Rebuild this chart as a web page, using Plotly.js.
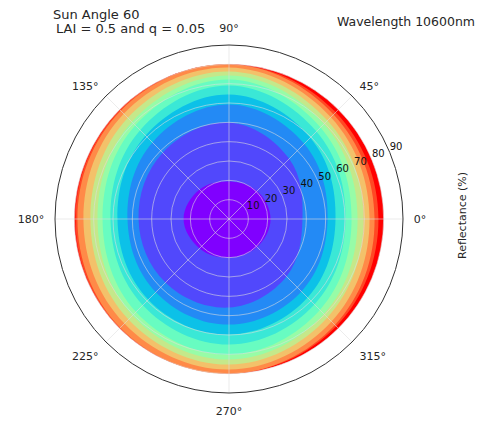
<!DOCTYPE html>
<html>
<head>
<meta charset="utf-8">
<script src="https://cdn.plot.ly/plotly-3.0.1.min.js"></script>
<style>
  html, body { margin: 0; padding: 0; background: #ffffff; }
  #chart { width: 480px; height: 422px; }
</style>
</head>
<body>
<div id="chart"></div>
<script>
// Azimuth directions (deg) where each band edge is sampled; the last one closes the loop
const azimuth = [0, 45, 90, 135, 180, 225, 270, 315, 360];

// Outer edge of each filled reflectance band, as view zenith angle (deg), outermost band first
const edgeBand00 = [80.0, 80.0, 80.0, 80.0, 80.0, 80.0, 80.0, 80.0, 80.0];
const edgeBand01 = [77.3, 78.0, 80.0, 79.8, 79.4, 80.0, 80.0, 78.5, 77.3];
const edgeBand02 = [75.3, 76.5, 80.0, 79.2, 78.4, 79.5, 80.0, 77.5, 75.3];
const edgeBand03 = [72.7, 74.5, 78.4, 77.0, 75.3, 76.5, 77.9, 75.0, 72.7];
const edgeBand04 = [69.6, 72.0, 76.3, 74.0, 71.7, 73.5, 75.3, 72.0, 69.6];
const edgeBand05 = [66.5, 69.5, 74.2, 71.0, 68.0, 70.5, 72.7, 69.5, 66.5];
const edgeBand06 = [63.4, 67.0, 72.2, 68.5, 65.4, 68.0, 70.1, 66.5, 63.4];
const edgeBand07 = [60.3, 64.0, 69.1, 65.0, 61.3, 63.0, 64.9, 62.5, 60.3];
const edgeBand08 = [55.1, 59.5, 64.4, 61.0, 57.7, 59.0, 59.8, 57.5, 55.1];
const edgeBand09 = [51.0, 55.0, 59.2, 56.0, 52.5, 53.5, 54.6, 53.0, 51.0];
const edgeBand10 = [38.0, 44.0, 49.9, 48.5, 46.8, 46.5, 45.8, 42.0, 38.0];
const edgeBand11 = [21.5, 20.5, 19.4, 21.5, 23.5, 21.5, 19.9, 20.5, 21.5];

const bandEdges = [edgeBand00, edgeBand01, edgeBand02, edgeBand03, edgeBand04, edgeBand05,
                   edgeBand06, edgeBand07, edgeBand08, edgeBand09, edgeBand10, edgeBand11];

// Rainbow colour of each band, high reflectance (red) to low (violet)
const bandColors = ['#ff0000', '#ff4824', '#ff8a48', '#f3c16a', '#c5e88a', '#97fca7',
                    '#68fcc1', '#3ae8d6', '#0cc1e8', '#238af5', '#5148fc', '#8000ff'];

// Axis ticks
const radialTicks = [10, 20, 30, 40, 50, 60, 70, 80, 90];
const radialLabelAngle = 22.5;
const angularTicks = [0, 45, 90, 135, 180, 225, 270, 315];
const angularLabels = ['0°', '45°', '90°', '135°', '180°', '225°', '270°', '315°'];

// Each band is a filled closed curve; later (inner) bands paint over earlier ones
const traces = bandEdges.map((edge, i) => ({
  type: 'scatterpolar',
  subplot: 'polar',
  r: edge,
  theta: azimuth,
  mode: 'lines',
  fill: 'toself',
  fillcolor: bandColors[i],
  line: { width: 0, color: bandColors[i], shape: 'spline', smoothing: 1.12 },
  hoverinfo: 'skip'
}));

// Radial tick labels along the 22.5° ray, drawn on the top subplot
traces.push({
  type: 'scatterpolar',
  subplot: 'polar2',
  r: radialTicks,
  theta: radialTicks.map(() => radialLabelAngle),
  mode: 'text',
  text: radialTicks.map(String),
  textposition: 'top right',
  textfont: { family: 'DejaVu Sans, sans-serif', size: 10, color: '#111111' },
  hoverinfo: 'skip'
});

const W = 480, H = 422;
const cx = 229, cy = 219, R = 174;
const domX = [(cx - R) / W, (cx + R) / W];
const domY = [(H - cy - R) / H, (H - cy + R) / H];

const titleFont = { family: 'DejaVu Sans, sans-serif', size: 13, color: '#262626' };
const gridColor = 'rgba(222,222,222,0.72)';

const layout = {
  width: W,
  height: H,
  margin: { l: 0, r: 0, t: 0, b: 0 },
  paper_bgcolor: '#ffffff',
  showlegend: false,
  font: { family: 'DejaVu Sans, sans-serif', size: 11, color: '#262626' },
  // bottom subplot holds the filled bands
  polar: {
    domain: { x: domX, y: domY },
    bgcolor: '#ffffff',
    radialaxis: { range: [0, 90], showgrid: false, showticklabels: false, showline: false, ticks: '' },
    angularaxis: { showgrid: false, showticklabels: false, showline: false, ticks: '',
                   rotation: 0, direction: 'counterclockwise' }
  },
  // transparent subplot on top draws the grid, outline and tick labels over the bands
  polar2: {
    domain: { x: domX, y: domY },
    bgcolor: 'rgba(0,0,0,0)',
    radialaxis: {
      range: [0, 90], tickmode: 'array', tickvals: radialTicks, angle: radialLabelAngle,
      showline: false, ticks: '', showticklabels: false,
      gridcolor: gridColor, gridwidth: 0.8
    },
    angularaxis: {
      rotation: 0, direction: 'counterclockwise',
      tickmode: 'array', tickvals: angularTicks, ticktext: angularLabels,
      showline: true, linecolor: '#333333', linewidth: 1,
      ticks: 'outside', ticklen: 8, tickcolor: 'rgba(0,0,0,0)',
      gridcolor: gridColor, gridwidth: 0.8,
      tickfont: { family: 'DejaVu Sans, sans-serif', size: 11, color: '#262626' }
    }
  },
  annotations: [
    { text: 'Sun Angle 60', xref: 'paper', yref: 'paper', x: 51 / W, y: 1 - 14 / H,
      xanchor: 'left', yanchor: 'middle', showarrow: false, font: titleFont },
    { text: 'LAI = 0.5 and q = 0.05', xref: 'paper', yref: 'paper', x: 54 / W, y: 1 - 28 / H,
      xanchor: 'left', yanchor: 'middle', showarrow: false, font: titleFont },
    { text: 'Wavelength 10600nm', xref: 'paper', yref: 'paper', x: 477 / W, y: 1 - 21 / H,
      xanchor: 'right', yanchor: 'middle', showarrow: false,
      font: { family: 'DejaVu Sans, sans-serif', size: 12.5, color: '#262626' } },
    { text: 'Reflectance (%)', xref: 'paper', yref: 'paper', x: 463 / W, y: 1 - 216 / H,
      xanchor: 'center', yanchor: 'middle', textangle: -90, showarrow: false,
      font: { family: 'DejaVu Sans, sans-serif', size: 11, color: '#262626' } }
  ]
};

Plotly.newPlot('chart', traces, layout, { staticPlot: true, displayModeBar: false });
</script>
</body>
</html>
